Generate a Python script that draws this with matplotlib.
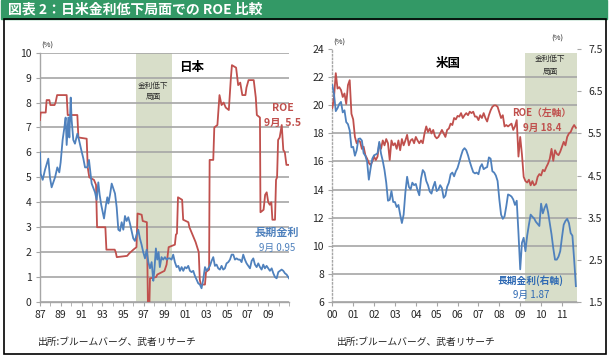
"""
Japan / US: ROE vs long-term rate during rate-decline phases
"""

import numpy as np
import matplotlib.pyplot as plt
from matplotlib.patches import Rectangle

plt.rcParams['font.family'] = ['Noto Sans CJK JP', 'DejaVu Sans']

W, H = 609, 361
RED = '#c0504d'
BLUE = '#4f81bd'
GRID = '#a6a6a6'
SHADE = '#d8dec9'
GREEN = '#339966'
TXT = '#262626'

# ---- Japan (decimal years) ----
jp_roe_t = [1987.00, 1987.06, 1987.55, 1987.64, 1987.90, 1988.00, 1988.40, 1988.50, 1988.65,
            1989.57, 1989.67, 1990.60, 1990.70, 1991.50, 1991.60, 1991.75, 1992.20, 1992.40,
            1992.50, 1993.30, 1993.40, 1994.20, 1994.30, 1994.40, 1995.40, 1995.60, 1996.00,
            1996.30, 1996.40, 1996.80, 1996.90, 1997.30, 1997.40, 1997.55, 1997.60, 1998.20,
            1998.30, 1999.00, 1999.20, 1999.40, 2000.00, 2000.10, 2000.20, 2000.30, 2000.70,
            2000.80, 2001.30, 2001.40, 2001.70, 2002.00, 2002.30, 2002.40, 2002.50, 2002.90,
            2003.00, 2003.30, 2003.35, 2003.70, 2003.80, 2004.10, 2004.30, 2004.50, 2004.70,
            2004.90, 2005.20, 2005.40, 2005.50, 2005.90, 2006.10, 2006.30, 2006.50, 2006.80,
            2006.90, 2007.10, 2007.60, 2007.80, 2007.90, 2008.20, 2008.25, 2008.55, 2008.70,
            2008.85, 2009.00, 2009.15, 2009.30, 2009.40, 2009.65, 2009.75, 2009.85, 2009.95,
            2010.10, 2010.30, 2010.45, 2010.60, 2010.75, 2011.00]
jp_roe_v = [7.3, 7.6, 7.6, 8.1, 8.1, 7.9, 7.9, 8.0, 8.3,
            8.3, 7.5, 7.5, 6.6, 6.55, 5.4, 5.0, 4.9, 4.7,
            3.0, 3.0, 2.1, 2.1, 2.0, 1.8, 1.85, 1.95, 2.1,
            2.2, 3.55, 3.5, 3.25, 3.2, 0.0, 0.0, 0.95, 1.0,
            1.1, 1.25, 1.5, 2.2, 2.3, 2.7, 2.75, 4.2, 4.1,
            3.3, 3.2, 3.0, 2.7, 2.4, 2.0, 0.9, 0.7, 0.7,
            1.2, 1.3, 5.7, 5.7, 7.0, 7.1, 8.3, 7.9, 8.0,
            7.8, 7.7, 9.0, 9.5, 9.4, 8.7, 8.8, 8.3, 8.3,
            8.6, 8.9, 8.9, 8.2, 7.5, 7.4, 3.6, 3.7, 4.3,
            4.4, 4.0, 3.9, 4.0, 3.3, 3.3, 4.9, 5.0, 6.5,
            6.6, 7.1, 6.1, 6.0, 5.5, 5.5]

jp_jgb_t = [1987.00, 1987.06, 1987.26, 1987.48, 1987.80, 1987.96, 1988.12, 1988.45, 1988.67,
            1988.86, 1988.99, 1989.18, 1989.35, 1989.47, 1989.57, 1989.73, 1989.83, 1989.96,
            1990.05, 1990.21, 1990.37, 1990.60, 1990.76, 1990.95, 1991.18, 1991.34, 1991.56,
            1991.72, 1991.98, 1992.30, 1992.46, 1992.62, 1992.75, 1992.90, 1993.05, 1993.17,
            1993.36, 1993.49, 1993.59, 1993.75, 1993.91, 1994.07, 1994.23, 1994.39, 1994.55,
            1994.71, 1994.87, 1995.03, 1995.19, 1995.35, 1995.51, 1995.67, 1995.83, 1995.99,
            1996.15, 1996.31, 1996.47, 1996.63, 1996.79, 1996.95, 1997.12, 1997.28, 1997.44,
            1997.60, 1997.76, 1997.92, 1998.01, 1998.17, 1998.30, 1998.43, 1998.55, 1998.71,
            1998.87, 1999.04, 1999.20, 1999.36, 1999.52, 1999.68, 1999.84, 2000.00, 2000.17,
            2000.33, 2000.49, 2000.65, 2000.81, 2000.97, 2001.13, 2001.29, 2001.45, 2001.61,
            2001.77, 2001.93, 2002.09, 2002.25, 2002.41, 2002.57, 2002.73, 2002.90, 2003.06,
            2003.22, 2003.38, 2003.54, 2003.70, 2003.86, 2004.02, 2004.18, 2004.34, 2004.50,
            2004.66, 2004.82, 2004.98, 2005.15, 2005.31, 2005.47, 2005.63, 2005.79, 2005.95,
            2006.11, 2006.27, 2006.43, 2006.59, 2006.75, 2006.91, 2007.07, 2007.24, 2007.40,
            2007.56, 2007.72, 2007.88, 2008.04, 2008.20, 2008.36, 2008.52, 2008.68, 2008.84,
            2009.00, 2009.16, 2009.33, 2009.49, 2009.65, 2009.81, 2009.97, 2010.13, 2010.29,
            2010.45, 2010.61, 2010.77, 2011.00]
jp_jgb_v = [6.0, 5.15, 4.9, 5.3, 5.75, 5.0, 4.6, 5.0, 5.4,
            5.2, 5.6, 6.5, 7.0, 7.4, 6.3, 7.4, 6.6, 8.2,
            7.3, 6.5, 6.35, 6.75, 6.5, 6.15, 5.75, 5.4, 5.4,
            5.7, 4.75, 4.4, 4.1, 4.8, 4.3, 3.9, 3.6, 3.35,
            3.9, 4.2, 3.95, 4.3, 4.75, 4.55, 4.35, 3.8, 2.9,
            2.85, 3.2, 2.9, 3.45, 3.25, 3.4, 3.15, 2.85, 2.55,
            2.45, 2.7, 2.9, 2.55, 2.3, 2.0, 1.75, 2.1, 1.6,
            1.35, 1.6, 0.85, 1.2, 2.15, 1.7, 2.0, 1.4, 1.8,
            1.7, 1.8, 1.7, 1.75, 1.75, 1.7, 1.9, 1.6, 1.4,
            1.45, 1.25, 1.4, 1.25, 1.4, 1.35, 1.45, 1.25, 1.2,
            1.25, 1.05, 0.9, 0.75, 0.7, 0.55, 0.9, 1.4, 1.25,
            1.35, 1.45, 1.65, 1.8, 1.45, 1.5, 1.35, 1.3, 1.45,
            1.3, 1.35, 1.55, 1.6, 1.7, 1.9, 1.9, 1.7, 1.75,
            1.7, 1.7, 1.6, 1.9, 1.7, 1.55, 1.45, 1.35, 1.65,
            1.75, 1.5, 1.4, 1.55, 1.4, 1.3, 1.5, 1.35, 1.45,
            1.35, 1.25, 1.35, 1.15, 1.0, 0.95, 1.2, 1.25, 1.3,
            1.25, 1.15, 1.1, 0.95]
jp_easing = (1996.3, 1999.7)
jp_years = list(range(1987, 2011))

# ---- US (monthly from Jan 2000) ----
us_roe = [19.8, 20.6, 22.3, 21.2, 21.3, 21.1, 20.6, 20.85, 20.1, 21.45, 21.8, 19.4,
          19.0, 17.75, 17.3, 17.5, 17.4, 16.9, 17.05, 16.45, 16.2, 15.9, 15.75, 16.0,
          16.35, 16.1, 16.35, 17.3, 16.9, 17.5, 17.15, 17.6, 17.3, 16.1, 17.5, 17.15,
          17.3, 16.9, 17.5, 16.8, 17.6, 17.15, 17.5, 17.9, 17.15, 17.5, 17.6, 17.3,
          17.75, 17.5, 17.3, 17.5, 17.3, 18.0, 18.5, 18.1, 18.35, 18.0, 18.25, 17.8,
          17.65, 17.75, 18.0, 18.25, 18.0, 17.75, 18.25, 18.35, 18.7, 18.6, 19.1, 19.0,
          19.25, 19.2, 19.45, 19.1, 19.3, 19.45, 19.3, 19.55, 19.45, 19.55, 19.2, 19.2,
          18.95, 19.3, 19.1, 19.45, 19.1, 18.85, 19.3, 19.65, 19.9, 20.0, 20.0, 19.9,
          19.5, 19.1, 19.3, 18.5, 18.6, 18.5, 18.6, 18.7, 18.25, 18.5, 18.95, 16.35,
          17.75, 16.5, 14.9, 14.6, 14.5, 14.7, 14.3, 14.6, 14.3, 14.4, 14.9, 15.1,
          15.0, 15.4, 15.3, 15.6, 15.85, 16.2, 16.9, 16.05, 16.8, 16.55, 16.45, 16.7,
          17.05, 17.4, 17.15, 17.75, 18.0, 18.1, 18.4, 18.6, 18.4]
us_ust = [6.65, 6.43, 6.03, 6.10, 6.20, 6.25, 6.00, 6.05, 5.77, 5.72, 5.57, 5.17,
          5.18, 4.97, 5.10, 5.37, 5.38, 5.33, 5.03, 4.97, 4.83, 4.40, 4.67, 4.90,
          4.98, 5.00, 5.03, 5.30, 5.02, 4.85, 4.63, 4.33, 3.90, 3.92, 4.13, 3.87,
          3.87, 3.75, 3.80, 3.57, 3.37, 3.57, 4.10, 4.47, 4.23, 4.17, 4.33, 4.27,
          4.30, 4.15, 4.03, 4.43, 4.63, 4.57, 4.37, 4.27, 4.12, 4.07, 4.23, 4.35,
          4.13, 4.17, 4.27, 4.20, 3.97, 4.02, 4.23, 4.33, 4.53, 4.57, 4.48, 4.60,
          4.68, 4.82, 4.97, 5.10, 5.15, 5.10, 4.98, 4.83, 4.70, 4.58, 4.55, 4.57,
          4.53, 4.70, 4.77, 4.65, 4.68, 4.70, 4.93, 4.90, 4.60, 4.57, 4.50, 4.37,
          3.93, 3.57, 3.47, 3.53, 3.77, 4.05, 4.03, 4.00, 3.93, 3.80, 3.90, 3.13,
          2.27, 2.90, 3.02, 2.70, 3.07, 3.33, 3.57, 3.52, 3.48, 3.40, 3.35, 3.30,
          3.83, 3.60, 3.73, 3.82, 3.63, 3.37, 3.10, 2.77, 2.50, 2.50, 2.57, 2.70,
          3.03, 3.33, 3.42, 3.47, 3.37, 3.13, 3.07, 2.50, 1.87]
us_easing_start = 2009.25
us_years = list(range(2000, 2012))


def style_axis(ax):
  for s in ['top', 'right']:
    ax.spines[s].set_visible(False)
  for s in ['left', 'bottom']:
    ax.spines[s].set_color(GRID)
    ax.spines[s].set_linewidth(1.0)
  ax.tick_params(which='both', direction='out', length=3, color=GRID,
                 labelsize=7.5, labelcolor=TXT, pad=3)
  ax.grid(axis='y', color=GRID, lw=1.2)
  ax.set_axisbelow(True)


def ftext(x, y, s, **kw):
  """text placed in pixel coordinates of the 609x361 canvas"""
  kw.setdefault('ha', 'center')
  kw.setdefault('va', 'center')
  fig.text(x / W, 1 - y / H, s, **kw)


fig = plt.figure(figsize=(W / 100, H / 100), dpi=100)

# title bar and frame
fig.patches.append(Rectangle((1 / W, 1 - 19 / H), 606 / W, 19 / H,
                             transform=fig.transFigure, color=GREEN, zorder=0))
fig.patches.append(Rectangle((3.5 / W, 1 - 354 / H), 602 / W, 335 / H, fill=False,
                             ec='black', lw=1.2, transform=fig.transFigure, zorder=0))
ftext(8, 10, '図表 2：日米金利低下局面での ROE 比較', ha='left', color='white',
      fontsize=10, fontweight='bold')

# ---- Japan panel ----
ax1 = fig.add_axes([40 / W, 1 - 302 / H, 249 / W, 249.3 / H])
style_axis(ax1)
ax1.axvspan(*jp_easing, color=SHADE, zorder=0.2, lw=0)
ax1.plot(jp_roe_t, jp_roe_v, color=RED, lw=1.3, zorder=3)
ax1.plot(jp_jgb_t, jp_jgb_v, color=BLUE, lw=1.3, zorder=3)
ax1.set_xlim(1987, 2011)
ax1.set_ylim(0, 10)
ax1.set_yticks(range(0, 11))
ax1.set_xticks(jp_years[::2])
ax1.set_xticklabels(['%02d' % (y % 100) for y in jp_years[::2]])
ax1.set_xticks(jp_years + [2011], minor=True)

ftext(47, 46, '(%)', fontsize=5.5, color=TXT)
ftext(192, 67, '日本', fontsize=9, fontweight='bold', color='black')
ftext(153, 86, '金利低下', fontsize=5.5, color=TXT)
ftext(153, 97, '局面', fontsize=5.5, color=TXT)
ftext(283, 108, 'ROE', fontsize=7.5, fontweight='bold', color=RED)
ftext(283, 123, '9月  5.5', fontsize=7.5, fontweight='bold', color=RED)
ftext(277, 232, '長期金利', fontsize=8, fontweight='bold', color=BLUE)
ftext(277, 248, '9月 0.95', fontsize=7, color=BLUE)
ftext(38, 342, '出所:ブルームバーグ、武者リサーチ', ha='left', fontsize=7, color=TXT)

# ---- US panel ----
ax2 = fig.add_axes([332.3 / W, 1 - 301.7 / H, 244.7 / W, 252.4 / H])
style_axis(ax2)
ax2.spines['left'].set_linestyle(':')
us_t = 2000 + np.arange(len(us_roe)) / 12
ax2.axvspan(us_easing_start, 2011.72, ymax=(23.76 - 6) / 18, color=SHADE, zorder=0.2, lw=0)
ax2.plot(us_t, us_roe, color=RED, lw=1.3, zorder=3)
ax2.set_xlim(2000, 2011.72)
ax2.set_ylim(6, 24)
ax2.set_yticks(range(6, 25, 2))
ax2.set_xticks(us_years)
ax2.set_xticklabels(['%02d' % (y % 100) for y in us_years])
ax2.yaxis.get_gridlines()[-1].set_visible(False)

ax2r = ax2.twinx()
ax2r.plot(us_t, us_ust, color=BLUE, lw=1.3, zorder=3)
ax2r.set_ylim(1.5, 7.5)
ax2r.set_yticks(np.arange(1.5, 7.6, 1.0))
for s in ['top', 'right', 'left', 'bottom']:
  ax2r.spines[s].set_visible(False)
ax2r.tick_params(direction='out', length=3, color=GRID, labelsize=7.5,
                 labelcolor=TXT, pad=5)

ftext(339, 43, '(%)', fontsize=5.5, color=TXT)
ftext(557, 39, '(%)', fontsize=5.5, color=TXT)
ftext(448, 63, '米国', fontsize=9, fontweight='bold', color='black')
ftext(550, 59, '金利低下', fontsize=5.5, color=TXT)
ftext(550, 72, '局面', fontsize=5.5, color=TXT)
ftext(542, 113, 'ROE（左軸）', fontsize=7, fontweight='bold', color=RED)
ftext(542, 128, '9月 18.4', fontsize=7, fontweight='bold', color=RED)
ftext(531, 281, '長期金利(右軸)', fontsize=7, fontweight='bold', color='#2e69b3')
ftext(531, 295, '9月 1.87', fontsize=7, color='#2e69b3')
ftext(337, 342, '出所:ブルームバーグ、武者リサーチ', ha='left', fontsize=7, color=TXT)

fig.savefig('out.png', dpi=100)
